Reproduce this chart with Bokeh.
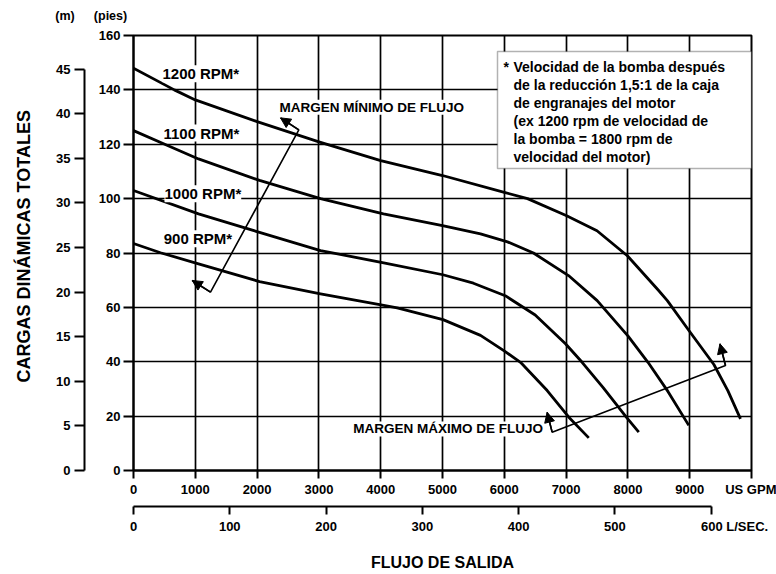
import math
from bokeh.plotting import figure
from bokeh.layouts import column, row
from bokeh.models import (LinearAxis, Range1d, FixedTicker, Label, Arrow,
                          NormalHead, BoxAnnotation)
from bokeh.embed import file_html
from bokeh.resources import INLINE

FONT = "Liberation Sans"
NB = "\u00a0"

# ---------------- data ----------------
gpm_ticks = list(range(0, 10001, 1000))
pies_ticks = list(range(0, 161, 20))
m_ticks = list(range(0, 46, 5))
lps_ticks = list(range(0, 601, 100))

rpm900_gpm = [0, 437, 1052, 2039, 3026, 4050, 4267, 5008, 5615, 5992, 6262, 6694, 7044, 7367]
rpm900_pies = [83.5, 80.1, 76.0, 69.5, 65.0, 60.7, 59.8, 55.5, 49.7, 44.1, 39.8, 29.4, 19.6, 12.0]

rpm1000_gpm = [0, 1052, 2039, 3026, 4049, 5006, 5500, 6015, 6500, 6990, 7259, 7600, 7974, 8176]
rpm1000_pies = [103.0, 94.4, 87.6, 80.9, 76.4, 72.0, 68.9, 64.3, 57.2, 46.6, 39.8, 30.5, 19.6, 14.1]

rpm1100_gpm = [0, 533, 1052, 2039, 3026, 4045, 5000, 5615, 6052, 6472, 7039, 7503, 8000, 8325, 8650, 8985]
rpm1100_pies = [125.0, 119.7, 114.6, 106.7, 100.0, 94.4, 90.1, 87.0, 84.1, 80.0, 71.7, 62.5, 49.5, 39.8, 29.0, 16.6]

rpm1200_gpm = [0, 660, 1000, 2000, 3000, 4000, 5000, 6000, 6376, 7000, 7500, 7991, 8490, 8638, 8987, 9391, 9617, 9822]
rpm1200_pies = [148.0, 140.0, 136.3, 128.3, 120.9, 114.0, 108.5, 102.3, 100.0, 93.8, 88.2, 79.0, 66.4, 62.5, 51.5, 39.0, 29.4, 19.0]

curves = [
    (rpm900_gpm, rpm900_pies),
    (rpm1000_gpm, rpm1000_pies),
    (rpm1100_gpm, rpm1100_pies),
    (rpm1200_gpm, rpm1200_pies),
]

rpm_labels = ["1200 RPM*", "1100 RPM*", "1000 RPM*", "900 RPM*"]
rpm_label_x = [469, 485, 502, 490]
rpm_label_y = [145.9, 124.1, 101.8, 85.2]

note_lines = [
    "Velocidad de la bomba después",
    "de la reducción 1,5:1 de la caja",
    "de engranajes del motor",
    "(ex 1200 rpm de velocidad de",
    "la bomba = 1800 rpm de",
    "velocidad del motor)",
]

# bracket (arrow) paths: tip -> corner -> corner -> tip
min_flow_x = [2379, 2675, 1246, 950]
min_flow_y = [129.7, 125.3, 65.6, 69.9]
max_flow_x = [6693, 6774, 9579, 9490]
max_flow_y = [21.4, 14.1, 38.6, 46.6]

M_PER_FT = 3.2808

# ---------------- layout sizes ----------------
TOTAL_W, TOTAL_H = 776, 574
HEAD_H = 27
SIDE_W = 40
MAIN_W = TOTAL_W - SIDE_W
MAIN_H = TOTAL_H - HEAD_H

y_range = Range1d(0, 160)


def blank(width, height, yr=None):
    f = figure(width=width, height=height, x_range=Range1d(0, width),
               y_range=yr if yr is not None else Range1d(0, height),
               output_backend="svg", toolbar_location=None,
               x_axis_location=None, y_axis_location=None, min_border=0)
    f.outline_line_color = None
    f.xgrid.visible = False
    f.ygrid.visible = False
    f.background_fill_color = "white"
    f.border_fill_color = "white"
    return f


def make_label(fig, x, y, t, size, align="left", baseline="middle", angle=0.0, bg=None):
    lab = Label(x=x, y=y, text=t, text_font=FONT, text_font_style="bold",
                text_font_size=size, text_color="black", text_align=align,
                text_baseline=baseline, angle=angle)
    if bg is not None:
        lab.background_fill_color = bg
    fig.add_layout(lab)
    return lab


# header with unit captions
head = blank(TOTAL_W, HEAD_H)
make_label(head, 64.5, HEAD_H - 15, "(m)", "12.5px", align="center")
make_label(head, 110, HEAD_H - 15, "(pies)", "12.5px", align="center")

# side strip (shares the head scale) with the vertical axis title, reading upward
side = blank(SIDE_W, MAIN_H, y_range)
make_label(side, 23, 32.4, "CARGAS DINÁMICAS TOTALES", "18px",
           align="left", angle=math.pi / 2)

# ---------------- main figure ----------------
p = figure(width=MAIN_W, height=MAIN_H, x_range=Range1d(0, 10000), y_range=y_range,
           output_backend="svg", toolbar_location=None,
           min_border_left=133 - SIDE_W, min_border_right=25, min_border_top=35 - HEAD_H,
           min_border_bottom=104)
p.background_fill_color = "white"
p.border_fill_color = "white"
p.outline_line_color = "black"
p.outline_line_width = 2

p.extra_y_ranges = {"m": Range1d(0, 160 / M_PER_FT)}
p.extra_x_ranges = {"lps": Range1d(0, 642)}


def style_axis(ax, tick_out, standoff, size="13px"):
    ax.axis_line_width = 2
    ax.axis_line_color = "black"
    ax.major_tick_line_width = 2
    ax.major_tick_line_color = "black"
    ax.major_tick_in = 0
    ax.major_tick_out = tick_out
    ax.minor_tick_line_color = None
    ax.major_label_standoff = standoff
    ax.major_label_text_font = FONT
    ax.major_label_text_font_style = "bold"
    ax.major_label_text_font_size = size
    ax.major_label_text_color = "black"


# left: pies axis (default)
yax = p.yaxis[0]
yax.ticker = FixedTicker(ticks=pies_ticks)
style_axis(yax, 10, 3)
yax.axis_label = " "
yax.axis_label_text_font_size = "7px"
yax.axis_label_standoff = 1

# left: meters axis
m_axis = LinearAxis(y_range_name="m", ticker=FixedTicker(ticks=m_ticks), bounds=(0, 45))
style_axis(m_axis, 10, 4)
p.add_layout(m_axis, "left")

# bottom: GPM axis
xax = p.xaxis[0]
xax.ticker = FixedTicker(ticks=gpm_ticks)
style_axis(xax, 8, 3)
xax.major_label_overrides = {10000: "US GPM"}
xax.axis_label = " "
xax.axis_label_text_font_size = "2px"
xax.axis_label_standoff = 2

# bottom: L/sec axis
l_axis = LinearAxis(x_range_name="lps", ticker=FixedTicker(ticks=lps_ticks), bounds=(0, 600),
                    axis_label="FLUJO DE SALIDA")
style_axis(l_axis, 8, 4)
l_axis.major_label_overrides = {600: NB * 13 + "600" + NB + "L/SEC."}
l_axis.axis_label_text_font = FONT
l_axis.axis_label_text_font_style = "bold"
l_axis.axis_label_text_font_size = "16px"
l_axis.axis_label_standoff = 17
l_axis.axis_label_text_color = "black"
p.add_layout(l_axis, "below")

# grid
p.xgrid.ticker = FixedTicker(ticks=gpm_ticks)
p.ygrid.ticker = FixedTicker(ticks=pies_ticks)
for g in (p.xgrid[0], p.ygrid[0]):
    g.grid_line_color = "black"
    g.grid_line_width = 1.7
    g.grid_line_alpha = 1.0

# curves
for gx, gy in curves:
    p.line(gx, gy, line_color="black", line_width=2.8, line_join="round")

# RPM labels
for t, x, y in zip(rpm_labels, rpm_label_x, rpm_label_y):
    make_label(p, x, y, t, "15px", bg="white")

# flow margin labels and brackets
make_label(p, 2362, 133.6, "MARGEN MÍNIMO DE FLUJO", "13.5px", bg="white")
make_label(p, 3555, 15.3, "MARGEN MÁXIMO DE FLUJO", "13.5px", bg="white")

for bx, by in ((min_flow_x, min_flow_y), (max_flow_x, max_flow_y)):
    p.line(bx, by, line_color="black", line_width=1.6)
    for (cx, cy, tx, ty) in ((bx[1], by[1], bx[0], by[0]), (bx[2], by[2], bx[3], by[3])):
        p.add_layout(Arrow(x_start=cx, y_start=cy, x_end=tx, y_end=ty,
                           line_width=1.6, line_color="black",
                           end=NormalHead(size=10, fill_color="black", line_color="black",
                                          line_width=1)))

# note box
p.add_layout(BoxAnnotation(left=5890, right=10000, top=154.1, bottom=111.1,
                           fill_color="white", fill_alpha=1.0,
                           line_color="black", line_width=1.5))
make_label(p, 5987, 148.3, "*", "14px")
for i, line in enumerate(note_lines):
    make_label(p, 6149, 148.3 - i * 6.62, line, "14px")

layout = column(head, row(side, p))
open("out.html", "w").write(file_html(layout, INLINE))
